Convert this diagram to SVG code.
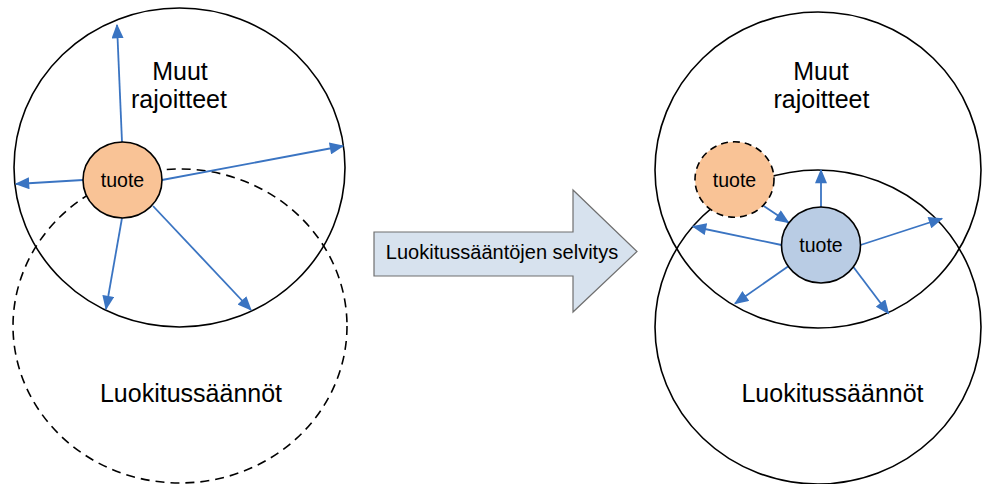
<svg xmlns="http://www.w3.org/2000/svg" width="982" height="484" viewBox="0 0 982 484">
  <defs>
    <marker id="head" viewBox="0 0 12 10" refX="11" refY="5" markerWidth="15" markerHeight="12" markerUnits="userSpaceOnUse" orient="auto">
      <path d="M0,0 L12,5 L0,10 z" fill="#3a74c2"/>
    </marker>
  </defs>
  <style>
    .ring { fill: none; stroke: #000; stroke-width: 1.6; }
    .dash { stroke-dasharray: 9 6; }
    .lbl { font-family: "Liberation Sans", Arial, sans-serif; font-size: 25px; fill: #000; text-anchor: middle; }
    .small { font-family: "Liberation Sans", Arial, sans-serif; font-size: 19.5px; fill: #000; text-anchor: middle; }
    .arr { stroke: #3a74c2; stroke-width: 1.8; fill: none; marker-end: url(#head); }
    .orange { fill: #f9c396; stroke: #000; stroke-width: 1.6; }
    .blue { fill: #b9cce4; stroke: #000; stroke-width: 1.6; }
  </style>

  <rect width="982" height="484" fill="#fff"/>

  <!-- Left: before -->
  <g id="left-constraints">
    <ellipse class="ring" cx="179.5" cy="167.5" rx="165.5" ry="159.5"/>
    <text class="lbl" x="180" y="80">Muut</text>
    <text class="lbl" x="179" y="108">rajoitteet</text>
  </g>
  <g id="left-rules">
    <ellipse class="ring dash" cx="180" cy="326" rx="167" ry="157"/>
    <text class="lbl" x="191" y="402">Luokitussäännöt</text>
  </g>

  <g id="left-connectors">
    <line class="arr" x1="122" y1="142" x2="117" y2="25"/>
    <line class="arr" x1="162" y1="180" x2="343" y2="146"/>
    <line class="arr" x1="83" y1="180" x2="16" y2="184"/>
    <line class="arr" x1="122" y1="218" x2="106" y2="309"/>
    <line class="arr" x1="153" y1="206" x2="251" y2="310"/>
  </g>

  <g id="left-product">
    <ellipse class="orange" cx="122.5" cy="180" rx="39.5" ry="38"/>
    <text class="small" x="122.5" y="187">tuote</text>
  </g>

  <!-- Transition arrow -->
  <g id="transition">
    <path d="M374,232 L573,232 L573,190 L637,251.5 L573,312 L573,276 L374,276 z" fill="#d7e2ee" stroke="#6f6f6f" stroke-width="1.2"/>
    <text font-family="Liberation Sans, Arial, sans-serif" font-size="20" x="502" y="259" text-anchor="middle" fill="#000">Luokitussääntöjen selvitys</text>
  </g>

  <!-- Right: after -->
  <g id="right-constraints">
    <ellipse class="ring" cx="818" cy="170" rx="163" ry="158"/>
    <text class="lbl" x="821" y="80">Muut</text>
    <text class="lbl" x="821.5" y="108">rajoitteet</text>
  </g>
  <g id="right-rules">
    <ellipse class="ring" cx="818" cy="327" rx="163" ry="157"/>
    <text class="lbl" x="832.5" y="402">Luokitussäännöt</text>
  </g>

  <g id="right-connectors">
    <line class="arr" x1="763" y1="205.5" x2="788.5" y2="222.5"/>
    <line class="arr" x1="821" y1="207" x2="821" y2="170"/>
    <line class="arr" x1="860.5" y1="245" x2="942" y2="218.5"/>
    <line class="arr" x1="781.5" y1="245" x2="693" y2="226.5"/>
    <line class="arr" x1="788" y1="266.5" x2="735" y2="303.5"/>
    <line class="arr" x1="853" y1="266.5" x2="888.5" y2="313.5"/>
  </g>

  <g id="right-product-old">
    <ellipse class="orange dash" style="stroke-dasharray:7 5" cx="734.5" cy="179.5" rx="39.5" ry="37.7"/>
    <text class="small" x="734.5" y="186.5">tuote</text>
  </g>
  <g id="right-product-new">
    <ellipse class="blue" cx="821" cy="245" rx="39.5" ry="38"/>
    <text class="small" x="821" y="252">tuote</text>
  </g>
</svg>
